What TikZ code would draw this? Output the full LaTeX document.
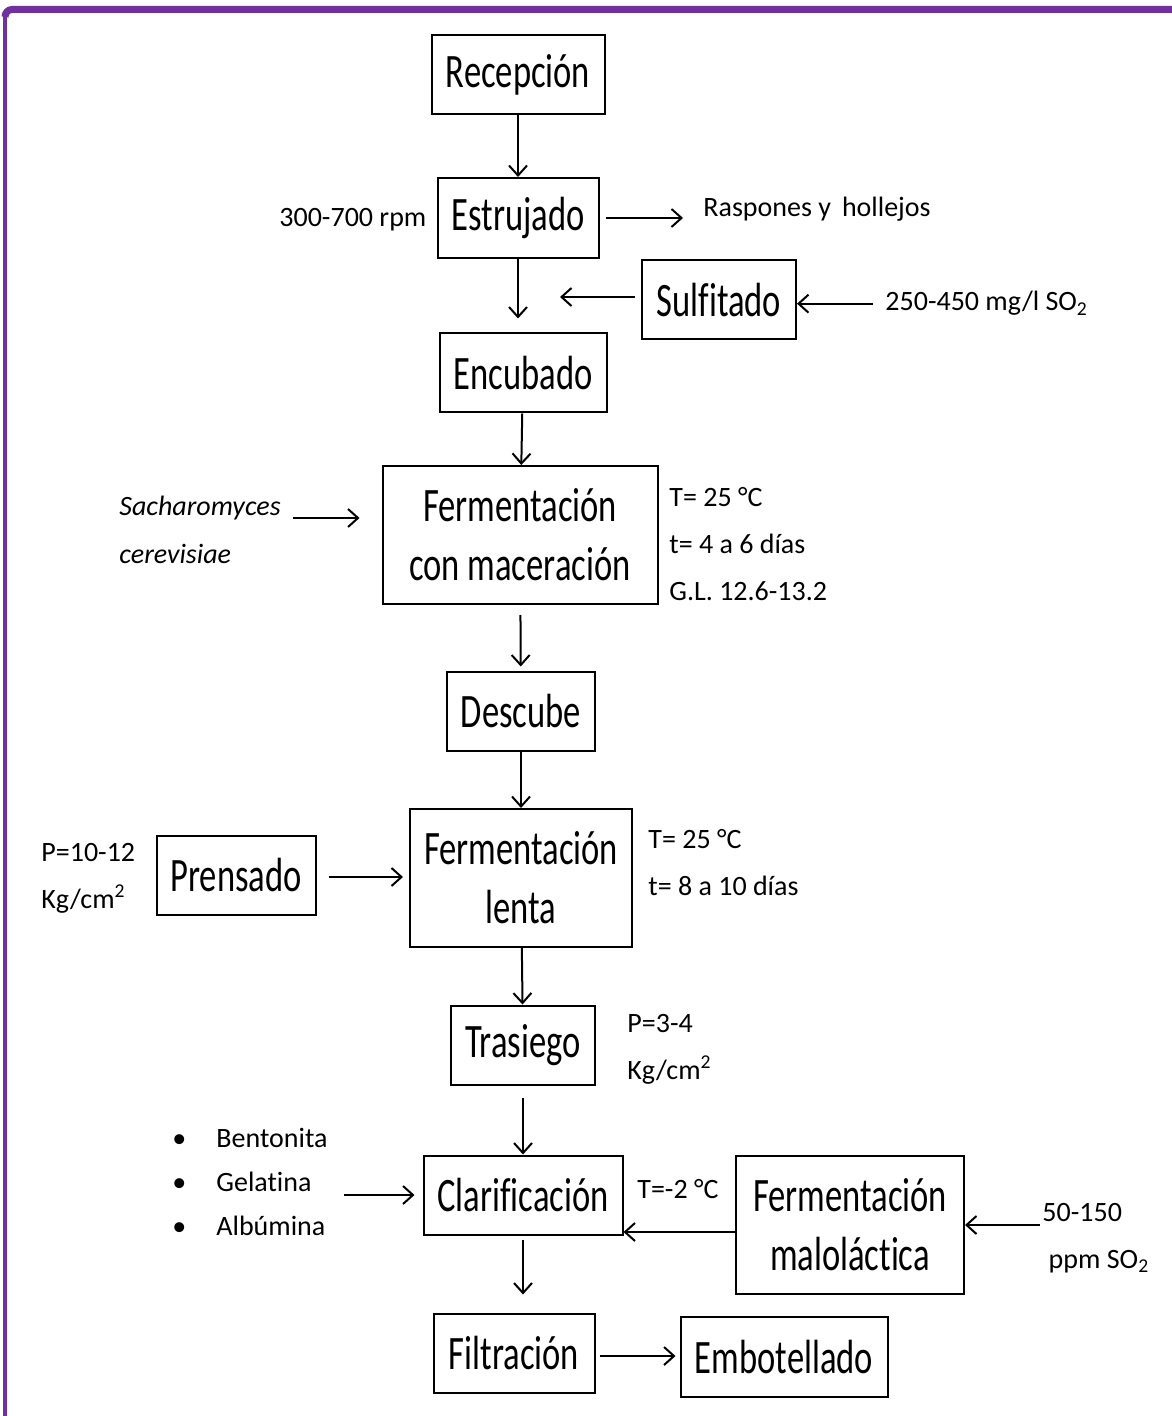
\documentclass[tikz,border=0pt]{standalone}
\usepackage{fontspec}
\setmainfont[Ligatures=NoCommon]{Carlito}
\newfontfamily\cajafont[FakeStretch=0.72,Ligatures=NoCommon]{Carlito}
\usetikzlibrary{arrows.meta}
\definecolor{marco}{RGB}{112,48,160}

\begin{document}
\begin{tikzpicture}
          [x=0.5pt,y=-0.5pt,
          etapa/.style={draw,line width=1pt,inner sep=2pt,align=center,
            font=\cajafont\fontsize{24}{29.5}\selectfont},
          nota/.style={inner sep=0pt,align=left,font=\fontsize{14}{23.5}\selectfont},
          flecha/.style={-{Straight Barb[length=5pt,width=9pt]},line width=1pt}]
          % \draw[help lines] (0,0) grid (1171,1416);
          \useasboundingbox (0,0) rectangle (1171,1416);
          \draw[marco,line width=3.5pt] (1180,9.5) -- (12,9.5) to[out=180,in=90] (5,17);
          \draw[marco,line width=2pt] (5,12) -- (5,1420);
          % etapas del proceso
          \node[etapa,minimum width=86.5pt,minimum height=39.5pt] (recep)  at (518,75)   {Recepción};
          \node[etapa,minimum width=80.5pt,minimum height=40pt]   (estru)  at (518,218)  {Estrujado};
          \node[etapa,minimum width=77pt,minimum height=39.5pt]   (sulfi)  at (719,300)  {Sulfitado};
          \node[etapa,minimum width=83.5pt,minimum height=39.5pt] (encub)  at (523,373)  {Encubado};
          \node[etapa,minimum width=137.5pt,minimum height=69pt]  (fermac) at (520,535)  {Fermentación\\con maceración};
          \node[etapa,minimum width=74pt,minimum height=39.5pt]   (descu)  at (521,711)  {Descube};
          \node[etapa,minimum width=111pt,minimum height=69pt]    (ferlen) at (521,878)  {Fermentación\\lenta};
          \node[etapa,minimum width=79.5pt,minimum height=39.5pt] (prens)  at (236,875)  {Prensado};
          \node[etapa,minimum width=72pt,minimum height=39.5pt]   (trasi)  at (523,1045) {Trasiego};
          \node[etapa,minimum width=99.5pt,minimum height=39.5pt] (clari)  at (523,1195) {Clarificación};
          \node[etapa,minimum width=114pt,minimum height=69pt]    (malol)  at (850,1225) {Fermentación\\maloláctica};
          \node[etapa,minimum width=80.5pt,minimum height=39.5pt] (filtr)  at (514,1353) {Filtración};
          \node[etapa,minimum width=103.5pt,minimum height=40pt]  (embot)  at (784,1357) {Embotellado};
          % condiciones y entradas
          \node[nota,anchor=base west] (rpm)    at (279,227)  {300-700 rpm};
          \node[nota,anchor=base west] (raspo)  at (703,217)  {Raspones y\, hollejos};
          \node[nota,anchor=base west] (dosis)  at (885,311)  {250-450 mg/l SO\textsubscript{2}};
          \node[nota,anchor=west,font=\itshape\fontsize{14}{24}\selectfont] (sacch) at (119,530) {Sacharomyces\\cerevisiae};
          \node[nota,anchor=west] (condfm) at (669,544) {T= 25 °C\\t= 4 a 6 días\\G.L.\ 12.6-13.2};
          \node[nota,anchor=west] (presion) at (41,878) {P=10-12\\Kg/cm\textsuperscript{2}};
          \node[nota,anchor=west] (condfl) at (648,863) {T= 25 °C\\t= 8 a 10 días};
          \node[nota,anchor=west] (prtras) at (627,1049) {P=3-4\\Kg/cm\textsuperscript{2}};
          \node[nota,anchor=west,font=\fontsize{14}{22}\selectfont] (aditiv) at (172,1182)
          {\makebox[22pt][l]{\textbullet}Bentonita\\\makebox[22pt][l]{\textbullet}Gelatina\\\makebox[22pt][l]{\textbullet}Albúmina};
          \node[nota,anchor=base west] (tempmal) at (637,1198) {T=-2 °C};
          \node[nota,anchor=west] (dosmal) at (1042,1238) {50-150\\\ ppm SO\textsubscript{2}};
          \coordinate (sulfin) at (560,297);
          % flechas
          \draw[flecha] (recep) -- (estru);
          \draw[flecha,shorten >=7pt] (estru) -- (estru |- encub.north);
          \draw[flecha,shorten <=3pt] (sulfi.west |- sulfin) -- (sulfin);
          \draw[flecha] (dosis.west) ++(-6pt,0) -- (dosis.west -| sulfi.east);
          \draw[flecha,shorten <=3pt,shorten >=10pt] (estru.east) -- (estru.east -| raspo.west);
          \draw[flecha] (encub) -- (fermac);
          \draw[flecha,shorten <=6pt,shorten >=11pt] (sacch.east |- 0,518) -- (fermac.west |- 0,518);
          \draw[flecha,shorten <=5pt,shorten >=2pt] (fermac) -- (descu);
          \draw[flecha] (descu) -- (ferlen);
          \draw[flecha,shorten <=6pt,shorten >=3pt] (prens.east |- 0,877) -- (ferlen.west |- 0,877);
          \draw[flecha] (ferlen) -- (trasi);
          \draw[flecha,shorten <=6pt] (trasi) -- (clari);
          \draw[flecha,shorten <=8pt,shorten >=4pt] (aditiv.east |- clari.west) -- (clari.west);
          \draw[flecha] ([yshift=-3.5pt]malol.west) -- ([yshift=-3.5pt]malol.west -| clari.east);
          \draw[flecha,shorten <=1pt] (dosmal.west |- malol.east) -- (malol.east);
          \draw[flecha,shorten <=2pt,shorten >=9pt] (clari) -- (clari |- filtr.north);
          \draw[flecha,shorten <=2pt,shorten >=2pt] (filtr.east |- 0,1356) -- (embot.west |- 0,1356);
\end{tikzpicture}
\end{document}
